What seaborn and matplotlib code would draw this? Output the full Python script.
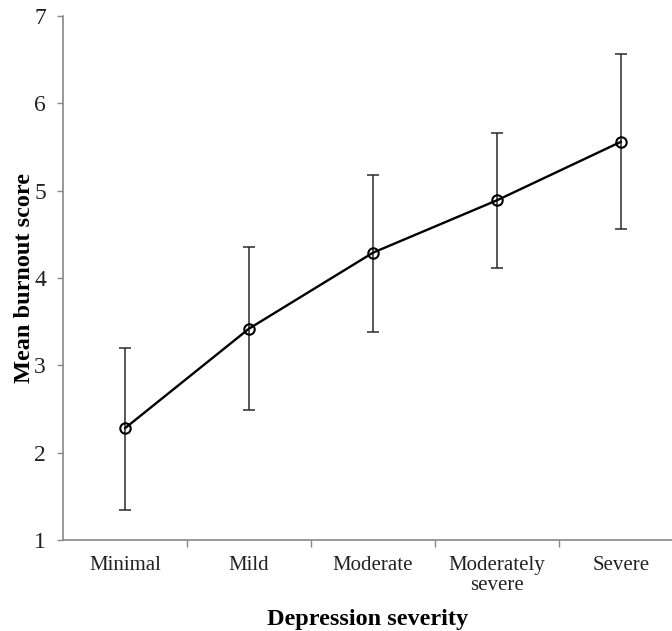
import matplotlib
matplotlib.use("Agg")
import matplotlib.pyplot as plt
import seaborn as sns
import pandas as pd
import numpy as np

categories = ["Minimal", "Mild", "Moderate", "Moderately\nsevere", "Severe"]
mean_burnout = [2.28, 3.42, 4.29, 4.89, 5.56]
err_low = [1.34, 2.49, 3.38, 4.12, 4.56]
err_high = [3.20, 4.35, 5.18, 5.66, 6.56]

df = pd.DataFrame({"severity": categories, "burnout": mean_burnout})

sns.set_theme(style="white")
plt.rcParams["font.family"] = ["Liberation Serif", "DejaVu Serif"]

fig = plt.figure(figsize=(6.72, 6.31), dpi=100)
ax = fig.add_axes([63 / 672, (631 - 540) / 631, (672 - 63) / 672, (540 - 16) / 631])

yerr = np.array([np.array(mean_burnout) - np.array(err_low),
                 np.array(err_high) - np.array(mean_burnout)])
ax.errorbar(np.arange(len(categories)), mean_burnout, yerr=yerr, fmt="none",
            ecolor="#2a2a2a", elinewidth=1.1, capsize=4, capthick=1.1, zorder=2)

sns.lineplot(data=df, x="severity", y="burnout", sort=False, ax=ax, color="black",
             linewidth=1.7, marker="o", markersize=7.5, markerfacecolor="none",
             markeredgecolor="black", markeredgewidth=1.5, zorder=3)

ax.set_ylim(1, 7)
ax.set_yticks([1, 2, 3, 4, 5, 6, 7])
ax.set_xlim(-0.5, (672 - 63) / 124 - 0.5)
ax.set_xticks(range(len(categories)))
ax.set_xticklabels(categories, fontsize=15, linespacing=1.1)
ax.set_xticks(np.arange(0.5, len(categories) - 0.5, 1.0), minor=True)
ax.tick_params(axis="x", which="major", length=0, pad=11.5)
ax.tick_params(axis="x", which="minor", length=5, color="#888888", width=1, direction="out", bottom=True)
ax.tick_params(axis="y", length=4.3, color="#888888", width=1, direction="out", left=True,
               labelsize=17, pad=8, labelcolor="#222222")
ax.tick_params(axis="x", labelcolor="#222222")

for s in ["top", "right"]:
    ax.spines[s].set_visible(False)
for s in ["left", "bottom"]:
    ax.spines[s].set_color("#888888")
    ax.spines[s].set_linewidth(1.2)

ax.set_xlabel("Depression severity", fontsize=17.5, fontweight="bold", color="black")
ax.set_ylabel("Mean burnout score", fontsize=17.5, fontweight="bold", color="black")
ax.xaxis.set_label_coords(0.5, (540 - 609) / 524)
ax.yaxis.set_label_coords((35 - 63) / 609, 0.5)

fig.savefig("out.png", dpi=100)
